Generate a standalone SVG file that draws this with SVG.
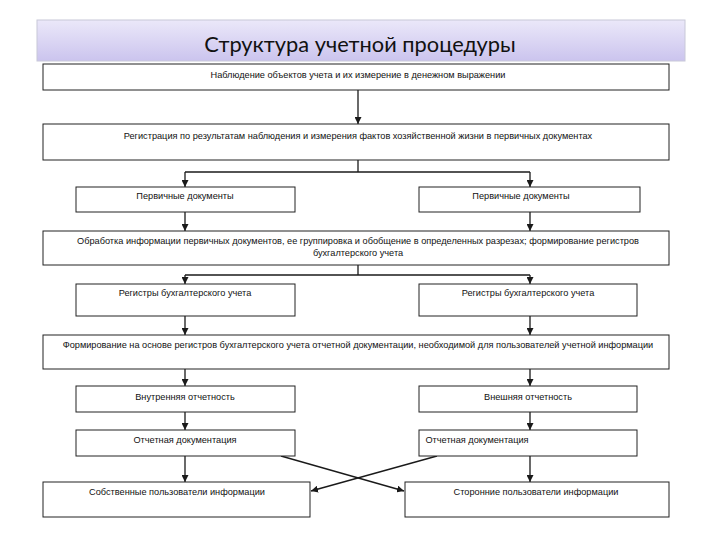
<svg xmlns="http://www.w3.org/2000/svg" width="720" height="540" viewBox="0 0 720 540">
<defs>
<linearGradient id="tg" x1="0" y1="0" x2="0" y2="1">
<stop offset="0" stop-color="#ebe8f9"/>
<stop offset="1" stop-color="#cbc4ee"/>
</linearGradient>
<marker id="ah" viewBox="0 0 10 10" refX="10" refY="5" markerWidth="7" markerHeight="7" orient="auto" markerUnits="userSpaceOnUse">
<path d="M0,0 L10,5 L0,10 z" fill="#1a1a1a"/>
</marker>
<style>
.b{fill:#fff;stroke:#222;stroke-width:1}
.t{font-family:"Liberation Sans",Arial,sans-serif;font-size:9.2px;fill:#111;text-anchor:middle}
.c{fill:none;stroke:#1a1a1a;stroke-width:1.3}
.a{fill:none;stroke:#1a1a1a;stroke-width:1.3;marker-end:url(#ah)}
</style>
</defs>
<rect width="720" height="540" fill="#fff"/>
<g id="title">
<rect x="37" y="20" width="648" height="41" fill="url(#tg)" stroke="#c8c8d8" stroke-width="1"/>
<text x="360" y="52" font-family="Lato,'Open Sans',sans-serif" font-size="21.8" fill="#111" text-anchor="middle">Структура учетной процедуры</text>
</g>
<g id="connectors">
<line class="a" x1="358" y1="90" x2="358" y2="124"/>
<line class="c" x1="358" y1="160" x2="358" y2="172"/>
<line class="c" x1="185" y1="172" x2="530" y2="172"/>
<line class="a" x1="185" y1="172" x2="185" y2="187"/>
<line class="a" x1="530" y1="172" x2="530" y2="187"/>
<line class="a" x1="185" y1="212" x2="185" y2="231"/>
<line class="a" x1="530" y1="212" x2="530" y2="231"/>
<line class="c" x1="358" y1="265" x2="358" y2="275"/>
<line class="c" x1="185" y1="275" x2="530" y2="275"/>
<line class="a" x1="185" y1="275" x2="185" y2="284"/>
<line class="a" x1="530" y1="275" x2="530" y2="284"/>
<line class="a" x1="185" y1="316" x2="185" y2="335"/>
<line class="a" x1="530" y1="316" x2="530" y2="335"/>
<line class="a" x1="185" y1="369" x2="185" y2="386"/>
<line class="a" x1="530" y1="369" x2="530" y2="386"/>
<line class="a" x1="185" y1="412" x2="185" y2="430"/>
<line class="a" x1="530" y1="412" x2="530" y2="430"/>
<line class="a" x1="185" y1="456" x2="185" y2="482"/>
<line class="a" x1="530" y1="456" x2="530" y2="482"/>
<line class="a" x1="281" y1="456" x2="404" y2="491"/>
<line class="a" x1="437" y1="456" x2="311" y2="491"/>
</g>
<g id="n1"><rect class="b" x="43" y="64" width="626" height="26"/><text class="t" x="358" y="78">Наблюдение объектов учета и их измерение в денежном выражении</text></g>
<g id="n2"><rect class="b" x="43" y="124" width="626" height="36"/><text class="t" x="358" y="139">Регистрация по результатам наблюдения и измерения фактов хозяйственной жизни в первичных документах</text></g>
<g id="n3a"><rect class="b" x="76" y="187" width="219" height="25"/><text class="t" x="185" y="199">Первичные документы</text></g>
<g id="n3b"><rect class="b" x="419" y="187" width="221" height="25"/><text class="t" x="521" y="199">Первичные документы</text></g>
<g id="n4"><rect class="b" x="43" y="231" width="626" height="34"/><text class="t" x="358" y="244">Обработка информации первичных документов, ее группировка и обобщение в определенных разрезах; формирование регистров</text><text class="t" x="358" y="256">бухгалтерского учета</text></g>
<g id="n5a"><rect class="b" x="76" y="284" width="219" height="32"/><text class="t" x="185" y="296">Регистры бухгалтерского учета</text></g>
<g id="n5b"><rect class="b" x="419" y="284" width="218" height="32"/><text class="t" x="528" y="296">Регистры бухгалтерского учета</text></g>
<g id="n6"><rect class="b" x="43" y="335" width="626" height="34"/><text class="t" x="358" y="348">Формирование на основе регистров бухгалтерского учета отчетной документации, необходимой для пользователей учетной информации</text></g>
<g id="n7a"><rect class="b" x="76" y="386" width="219" height="26"/><text class="t" x="185" y="400">Внутренняя отчетность</text></g>
<g id="n7b"><rect class="b" x="419" y="386" width="218" height="26"/><text class="t" x="528" y="400">Внешняя отчетность</text></g>
<g id="n8a"><rect class="b" x="76" y="430" width="219" height="26"/><text class="t" x="185" y="443">Отчетная документация</text></g>
<g id="n8b"><rect class="b" x="419" y="430" width="218" height="26"/><text class="t" x="477" y="443">Отчетная документация</text></g>
<g id="n9a"><rect class="b" x="43" y="482" width="267" height="35"/><text class="t" x="177" y="495">Собственные пользователи информации</text></g>
<g id="n9b"><rect class="b" x="405" y="482" width="264" height="35"/><text class="t" x="536" y="495">Сторонние пользователи информации</text></g>
</svg>
